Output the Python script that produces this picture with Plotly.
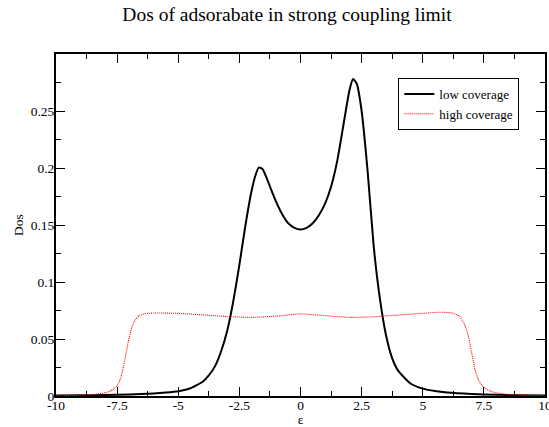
import plotly.graph_objects as go

# ---- data ----
low_x = [-10, -9, -8, -7, -6, -5.5, -5, -4.5, -4, -3.75, -3.5, -3.25, -3, -2.75, -2.5, -2.25,
         -2, -1.85, -1.7, -1.55, -1.4, -1.2, -1, -0.75, -0.5, -0.25, 0, 0.25, 0.5, 0.75, 1,
         1.25, 1.5, 1.75, 2, 2.15, 2.3, 2.5, 2.75, 3, 3.25, 3.5, 3.75, 4, 4.5, 5, 5.5, 6, 7,
         8, 9, 10]
low_y = [0.0004, 0.0006, 0.0009, 0.0014, 0.0022, 0.003, 0.0042, 0.0068, 0.0125, 0.018, 0.026,
         0.039, 0.057, 0.083, 0.115, 0.150, 0.180, 0.193, 0.2005, 0.199, 0.192, 0.181, 0.1705,
         0.1595, 0.1515, 0.1475, 0.146, 0.1475, 0.1515, 0.1585, 0.1685, 0.1835, 0.206, 0.237,
         0.268, 0.278, 0.274, 0.250, 0.196, 0.130, 0.085, 0.053, 0.033, 0.022, 0.011, 0.0065,
         0.0043, 0.003, 0.0017, 0.001, 0.0007, 0.0005]

high_x = [-10, -9, -8.5, -8, -7.75, -7.5, -7.35, -7.2, -7.05, -6.9, -6.75, -6.6, -6.4, -6.2, -6,
          -5, -4, -3, -2, -1, 0, 1, 2, 3, 4, 5, 5.75, 6.2, 6.5, 6.7, 6.85, 7, 7.15, 7.3, 7.5,
          7.75, 8, 8.5, 9, 10]
high_y = [0.0002, 0.0006, 0.0013, 0.0028, 0.0045, 0.009, 0.016, 0.030, 0.047, 0.060, 0.067,
          0.0705, 0.072, 0.0726, 0.0728, 0.0725, 0.0712, 0.0697, 0.0690, 0.0700, 0.0720, 0.0705,
          0.0690, 0.0695, 0.0710, 0.0725, 0.0735, 0.0728, 0.0700, 0.063, 0.054, 0.038, 0.022,
          0.013, 0.0075, 0.0045, 0.0028, 0.0013, 0.0006, 0.0002]

x_tickvals = [-10, -7.5, -5, -2.5, 0, 2.5, 5, 7.5, 10]
x_ticktext = ["-10", "-7.5", "-5", "-2.5", "0", "2.5", "5", "7.5", "10"]
y_tickvals = [0, 0.05, 0.1, 0.15, 0.2, 0.25]
y_ticktext = ["0", "0.05", "0.1", "0.15", "0.2", "0.25"]

title_text = "Dos of adsorabate in strong coupling limit"
FONT = "Liberation Serif, Times New Roman, serif"

fig = go.Figure()
fig.add_trace(go.Scatter(x=low_x, y=low_y, mode="lines", name="low coverage",
                         line=dict(color="black", width=2, shape="spline", smoothing=0.5)))
fig.add_trace(go.Scatter(x=high_x, y=high_y, mode="lines", name="high coverage",
                         line=dict(color="red", width=1.1, dash="1px,1px", shape="spline", smoothing=0.5)))

axis_common = dict(showgrid=False, zeroline=False, showline=True, linecolor="black", linewidth=2,
                   mirror="allticks", ticks="inside", ticklen=9, tickwidth=1.3, tickcolor="black",
                   automargin=False, ticklabeloverflow="allow",
                   tickfont=dict(family=FONT, size=13.5, color="black"))

fig.update_layout(
    width=549, height=427,
    margin=dict(l=56, r=4, t=54, b=31, autoexpand=False),
    paper_bgcolor="white", plot_bgcolor="white",
    font=dict(family=FONT, color="black"),
    title=dict(text=title_text, x=287/549, xref="container", xanchor="center",
               y=1 - 14/427, yref="container", yanchor="middle",
               font=dict(family=FONT, size=19.5, color="black")),
    xaxis=dict(range=[-10, 10], tickvals=x_tickvals, ticktext=x_ticktext,
               minor=dict(dtick=1.25, tick0=0, ticks="inside", ticklen=5, tickcolor="black"),
               ticklabelstandoff=-4,
               title=dict(text="ε", font=dict(family=FONT, size=13.5), standoff=2),
               **axis_common),
    yaxis=dict(range=[0, 0.3], tickvals=y_tickvals, ticktext=y_ticktext,
               minor=dict(dtick=0.025, tick0=0, ticks="inside", ticklen=5, tickcolor="black"),
               ticklabelstandoff=-3,
               title=dict(text="Dos", font=dict(family=FONT, size=13.5), standoff=4),
               **axis_common),
    legend=dict(x=0.70, y=0.93, xanchor="left", yanchor="top",
                bordercolor="black", borderwidth=1, bgcolor="white",
                font=dict(family=FONT, size=13, color="black"),
                tracegroupgap=0, itemwidth=30),
    showlegend=True,
)

fig.write_html("out.html", config={"displayModeBar": False},
               post_script="document.body.style.margin='0';document.body.style.overflow='hidden';")
